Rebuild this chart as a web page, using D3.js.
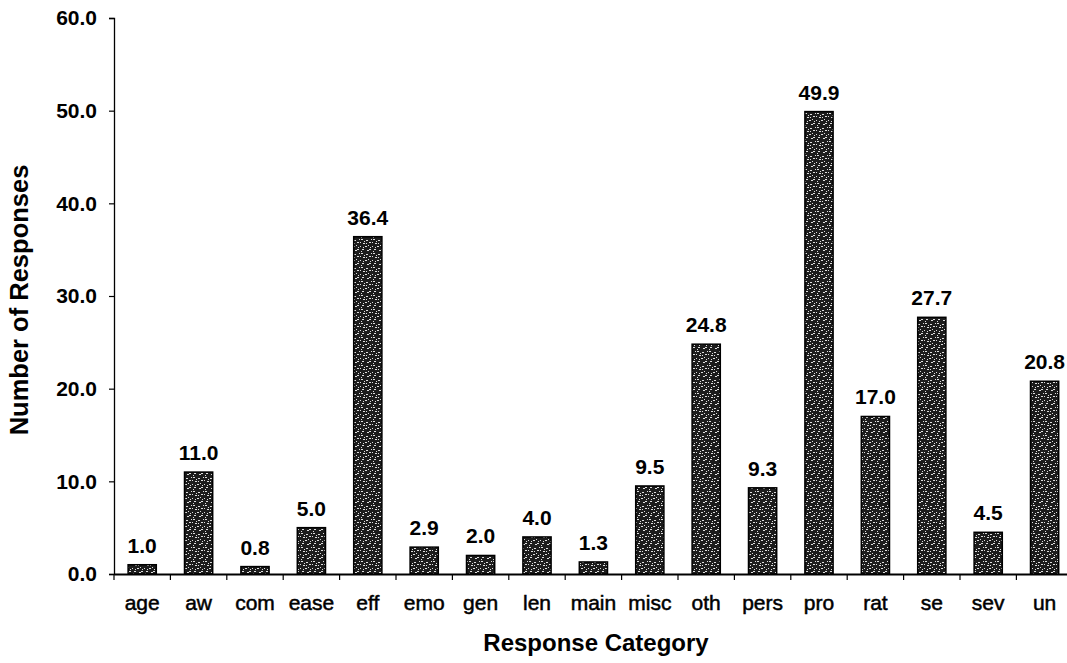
<!DOCTYPE html>
<html>
<head>
<meta charset="utf-8">
<script src="https://cdn.jsdelivr.net/npm/d3@7"></script>
<style>
  html, body { margin: 0; padding: 0; background: #fff; }
  svg { display: block; font-family: "Liberation Sans", Arial, sans-serif; }
</style>
</head>
<body>
<svg id="chart" width="1067" height="663"></svg>
<script>
// Response categories and their counts
const categories = ["age", "aw", "com", "ease", "eff", "emo", "gen", "len", "main", "misc",
                    "oth", "pers", "pro", "rat", "se", "sev", "un"];
const responses = [1.0, 11.0, 0.8, 5.0, 36.4, 2.9, 2.0, 4.0, 1.3, 9.5,
                   24.8, 9.3, 49.9, 17.0, 27.7, 4.5, 20.8];
const yTicks = [0, 10, 20, 30, 40, 50, 60];

const data = categories.map((c, i) => ({ category: c, value: responses[i] }));

const svg = d3.select("#chart");
const margin = { left: 114, top: 18, bottom: 574 };
const FONT = "'Liberation Sans', Arial, sans-serif";

const x = d3.scaleBand()
  .domain(categories)
  .range([margin.left, margin.left + 17 * 56.4])
  .paddingInner(0.5)
  .paddingOuter(0.25);

const y = d3.scaleLinear()
  .domain([0, 60])
  .range([margin.bottom, margin.top]);

// Speckled dark fill for the bars
const defs = svg.append("defs");
const pat = defs.append("pattern")
  .attr("id", "speckle")
  .attr("patternUnits", "userSpaceOnUse")
  .attr("width", 12).attr("height", 14);
pat.append("rect").attr("width", 12).attr("height", 14).attr("fill", "#1c1c1c");
const specks = [[1,1,2,1],[6,2,2,1],[9,4,2,1],[3,5,2,1],[0,8,1,1],[5,8,2,1],[10,9,1,1],
                [2,11,2,1],[7,12,2,1],[4,3,1,1],[8,7,1,1],[11,1,1,1],[1,13,1,1],
                [6,5,1,1],[3,9,1,1],[9,11,2,1],[0,4,1,1]];
pat.selectAll("rect.s").data(specks).join("rect")
  .attr("class", "s")
  .attr("x", d => d[0]).attr("y", d => d[1])
  .attr("width", d => d[2]).attr("height", d => d[3])
  .attr("fill", "#ffffff").attr("opacity", 0.85);

// Y axis
const yAxis = d3.axisLeft(y)
  .tickValues(yTicks)
  .tickFormat(d3.format(".1f"))
  .tickSize(5)
  .tickPadding(12);
const gy = svg.append("g")
  .attr("transform", `translate(${margin.left},0)`)
  .call(yAxis);
gy.select(".domain").attr("stroke", "#000").attr("stroke-width", 1.3);
gy.selectAll(".tick line").attr("stroke", "#000").attr("stroke-width", 1.2);
gy.selectAll(".tick text")
  .attr("font-size", 21).attr("font-weight", "bold").attr("fill", "#000")
  .attr("font-family", FONT);

// X axis with ticks at category boundaries
const step = x.step();
const x0 = margin.left;
const xAxis = d3.axisBottom(x).tickSize(0).tickPadding(21);
const gx = svg.append("g")
  .attr("transform", `translate(0,${margin.bottom})`)
  .call(xAxis);
gx.select(".domain").attr("stroke", "#000").attr("stroke-width", 2);
gx.selectAll(".tick text")
  .attr("font-size", 21).attr("fill", "#000")
  .attr("stroke", "#000").attr("stroke-width", 0.5)
  .attr("font-family", FONT);
gx.selectAll("line.bound")
  .data(d3.range(0, categories.length + 1))
  .join("line")
  .attr("class", "bound")
  .attr("x1", i => x0 + i * step).attr("x2", i => x0 + i * step)
  .attr("y1", 0).attr("y2", 6)
  .attr("stroke", "#000").attr("stroke-width", 1.2);

// Bars
svg.append("g").selectAll("rect")
  .data(data)
  .join("rect")
  .attr("x", d => x(d.category))
  .attr("y", d => y(d.value))
  .attr("width", x.bandwidth())
  .attr("height", d => y(0) - y(d.value))
  .attr("fill", "url(#speckle)")
  .attr("stroke", "#000")
  .attr("stroke-width", 1.5);

// Value labels
svg.append("g").selectAll("text")
  .data(data)
  .join("text")
  .attr("x", d => x(d.category) + x.bandwidth() / 2)
  .attr("y", d => y(d.value) - 12)
  .attr("text-anchor", "middle")
  .attr("font-size", 21)
  .attr("font-weight", "bold")
  .attr("fill", "#000")
  .text(d => d3.format(".1f")(d.value));

// Axis titles
svg.append("text")
  .attr("x", 596).attr("y", 651)
  .attr("text-anchor", "middle")
  .attr("font-size", 24).attr("font-weight", "bold")
  .text("Response Category");

svg.append("text")
  .attr("transform", "translate(28,300) rotate(-90)")
  .attr("text-anchor", "middle")
  .attr("font-size", 25.5).attr("font-weight", "bold")
  .text("Number of Responses");
</script>
</body>
</html>
